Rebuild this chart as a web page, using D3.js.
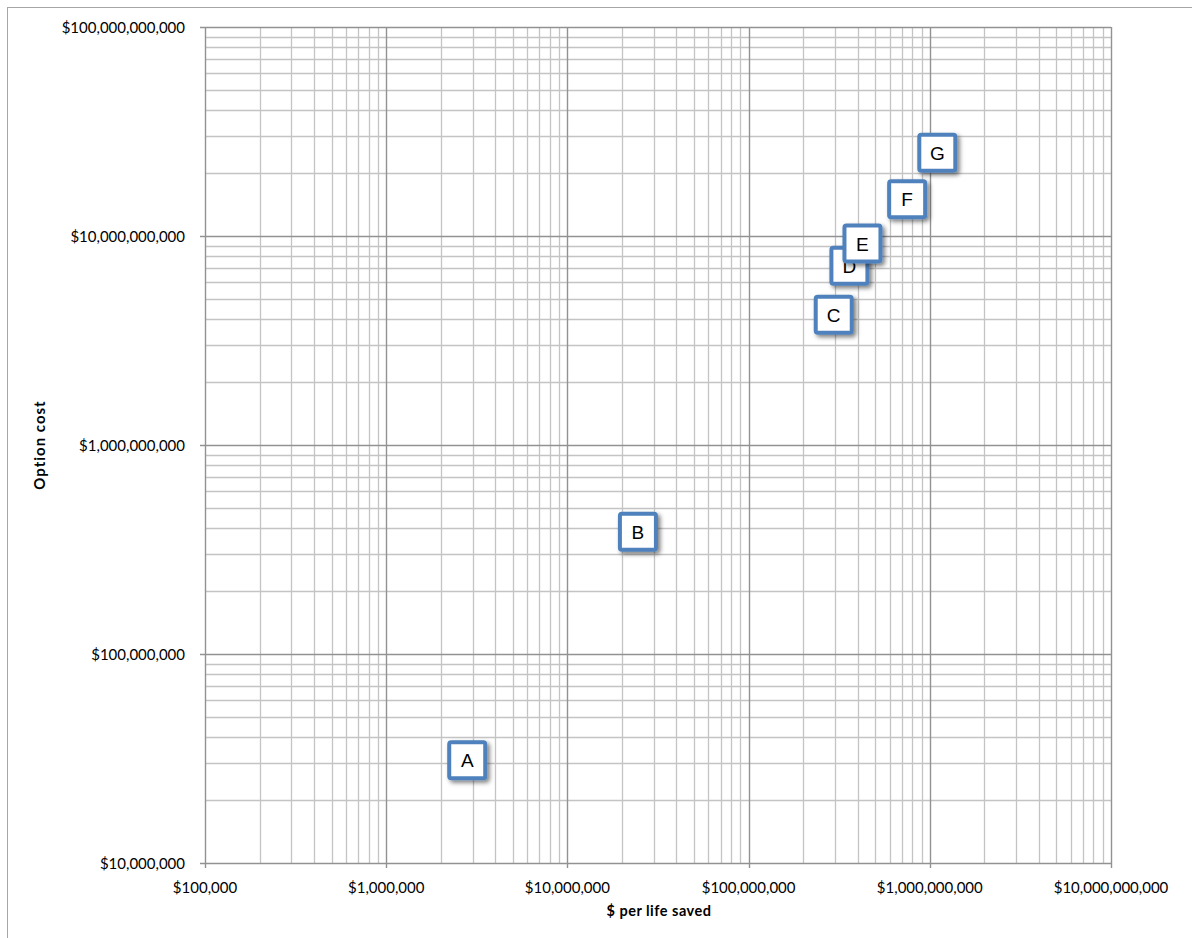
<!DOCTYPE html>
<html><head><meta charset="utf-8">
<script src="https://cdn.jsdelivr.net/npm/d3@7"></script>
<style>body{margin:0;background:#fff}svg{display:block}</style>
</head><body>
<script>
const labels = ["A","B","C","D","E","F","G"];
const costPerLife = [2.8e6, 2.45e7, 2.95e8, 3.6e8, 4.25e8, 7.5e8, 1.1e9];
const optionCost = [3.1e7, 3.85e8, 4.2e9, 7.2e9, 9.2e9, 1.5e10, 2.5e10];
const xTicks = [1e5, 1e6, 1e7, 1e8, 1e9, 1e10];
const yTicks = [1e7, 1e8, 1e9, 1e10, 1e11];
const xTitle = "$ per life saved";
const yTitle = "Option cost";

const W = 1192, H = 938;
const m = {left: 205, right: 1111, top: 27, bottom: 863};
const svg = d3.select("body").append("svg").attr("width", W).attr("height", H);

const defs = svg.append("defs");
const f = defs.append("filter").attr("id","sh").attr("x","-30%").attr("y","-30%").attr("width","170%").attr("height","170%");
f.append("feDropShadow").attr("dx",2.5).attr("dy",2.5).attr("stdDeviation",2).attr("flood-color","#000").attr("flood-opacity",0.5);

// outer border
svg.append("rect").attr("x",7.5).attr("y",7.5).attr("width",W).attr("height",H).attr("fill","none").attr("stroke","#a6a6a6");

const x = d3.scaleLog().domain([1e5,1e10]).range([m.left, m.right]);
const y = d3.scaleLog().domain([1e7,1e11]).range([m.bottom, m.top]);

const fmt = d => "$" + d3.format(",")(d);

const minorX = [], minorY = [];
for (let e = 5; e < 10; e++) for (let k = 2; k <= 9; k++) minorX.push(k * Math.pow(10, e));
for (let e = 7; e < 11; e++) for (let k = 2; k <= 9; k++) minorY.push(k * Math.pow(10, e));

const g = svg.append("g");
g.selectAll(".mx").data(minorX).join("line")
  .attr("x1", d => Math.round(x(d)) + 0.5).attr("x2", d => Math.round(x(d)) + 0.5)
  .attr("y1", m.top).attr("y2", m.bottom).attr("stroke","#c4c4c4").attr("stroke-width",1.3);
g.selectAll(".my").data(minorY).join("line")
  .attr("y1", d => Math.round(y(d)) + 0.5).attr("y2", d => Math.round(y(d)) + 0.5)
  .attr("x1", m.left).attr("x2", m.right).attr("stroke","#c4c4c4").attr("stroke-width",1.3);
g.selectAll(".Mx").data(xTicks).join("line")
  .attr("x1", d => Math.round(x(d)) + 0.5).attr("x2", d => Math.round(x(d)) + 0.5)
  .attr("y1", m.top).attr("y2", m.bottom + 5).attr("stroke","#929292").attr("stroke-width",1.4);
g.selectAll(".My").data(yTicks).join("line")
  .attr("y1", d => Math.round(y(d)) + 0.5).attr("y2", d => Math.round(y(d)) + 0.5)
  .attr("x1", m.left - 5).attr("x2", m.right).attr("stroke","#929292").attr("stroke-width",1.4);

const font = "Lato, 'Open Sans', sans-serif";
svg.selectAll(".xl").data(xTicks).join("text")
  .attr("x", d => x(d)).attr("y", 893).attr("text-anchor","middle")
  .attr("font-family", font).attr("font-size", 15).attr("fill","#000").text(fmt);
svg.selectAll(".yl").data(yTicks).join("text")
  .attr("x", 185).attr("y", d => y(d) + 5.5).attr("text-anchor","end")
  .attr("font-family", font).attr("font-size", 15).attr("fill","#000").text(fmt);

svg.append("text").attr("x", 659).attr("y", 916).attr("text-anchor","middle")
  .attr("font-family", font).attr("font-size", 14.5).attr("font-weight","bold")
  .attr("letter-spacing", 0.5).text(xTitle);
svg.append("text").attr("transform","translate(45,445) rotate(-90)").attr("text-anchor","middle")
  .attr("font-family", font).attr("font-size", 15).attr("font-weight","bold")
  .attr("letter-spacing", 1).text(yTitle);

const pts = labels.map((l,i) => ({l, x: costPerLife[i], y: optionCost[i]}));
const s = 36;
const pg = svg.selectAll(".pt").data(pts).join("g")
  .attr("transform", d => `translate(${x(d.x)},${y(d.y)})`);
pg.append("rect").attr("x", -s/2).attr("y", -s/2).attr("width", s).attr("height", s)
  .attr("rx", 2).attr("fill","#fff").attr("stroke","#4f81bd").attr("stroke-width",4)
  .attr("filter","url(#sh)");
pg.append("text").attr("text-anchor","middle").attr("y", 7)
  .attr("font-family","'Liberation Sans', Arial, sans-serif").attr("font-size",19).attr("fill","#000")
  .text(d => d.l);
</script>
</body></html>
